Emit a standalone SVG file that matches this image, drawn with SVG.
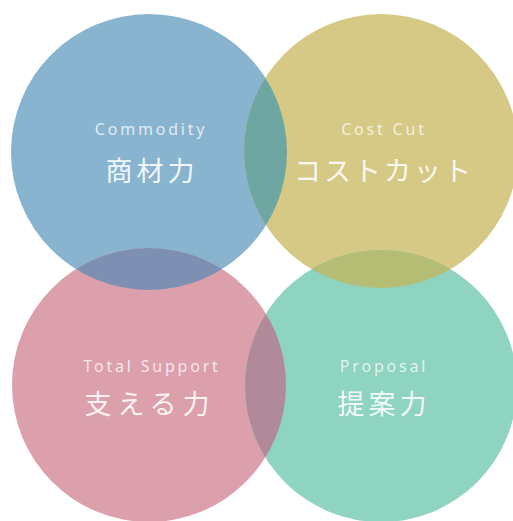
<svg xmlns="http://www.w3.org/2000/svg" width="513" height="521" viewBox="0 0 513 521">
<style>
.en{font-family:"Noto Sans","Liberation Sans",sans-serif;font-size:16px;fill:#ffffff;fill-opacity:0.75;text-anchor:middle;letter-spacing:2.8px}
.jp{font-family:"Noto Sans CJK JP",sans-serif;font-size:27px;fill:#ffffff;fill-opacity:0.9;text-anchor:middle;letter-spacing:4px}
</style>
<defs>
<clipPath id="cB"><circle cx="149" cy="152" r="138"/></clipPath>
<clipPath id="cY"><circle cx="381" cy="151" r="137"/></clipPath>
<clipPath id="cP"><circle cx="149" cy="385" r="137"/></clipPath>
<clipPath id="cT"><circle cx="381" cy="386" r="136"/></clipPath>
</defs>
<rect width="513" height="521" fill="#ffffff"/>
<g id="commodity">
<circle cx="149" cy="152" r="138" fill="#88b4cf"/>
</g>
<g id="costcut">
<circle cx="381" cy="151" r="137" fill="#d6c986"/>
</g>
<g id="support">
<circle cx="149" cy="385" r="137" fill="#dca0ad"/>
</g>
<g id="proposal">
<circle cx="381" cy="386" r="136" fill="#8fd3c1"/>
</g>
<g id="overlaps">
<circle cx="381" cy="151" r="137" fill="#6ea6a2" clip-path="url(#cB)"/>
<circle cx="149" cy="385" r="137" fill="#7d8fb2" clip-path="url(#cB)"/>
<circle cx="149" cy="385" r="137" fill="#b18a9a" clip-path="url(#cT)"/>
<circle cx="381" cy="386" r="136" fill="#b5bd74" clip-path="url(#cY)"/>
</g>
<g id="labels">
<text class="en" x="151" y="135">Commodity</text>
<text class="jp" x="152" y="181">商材力</text>
<text class="en" x="384" y="135">Cost Cut</text>
<text class="jp" x="384" y="181" style="letter-spacing:3px">コストカット</text>
<text class="en" x="152" y="372">Total Support</text>
<text class="jp" x="150" y="414" style="letter-spacing:6px">支える力</text>
<text class="en" x="384" y="372">Proposal</text>
<text class="jp" x="384" y="414">提案力</text>
</g>
</svg>
